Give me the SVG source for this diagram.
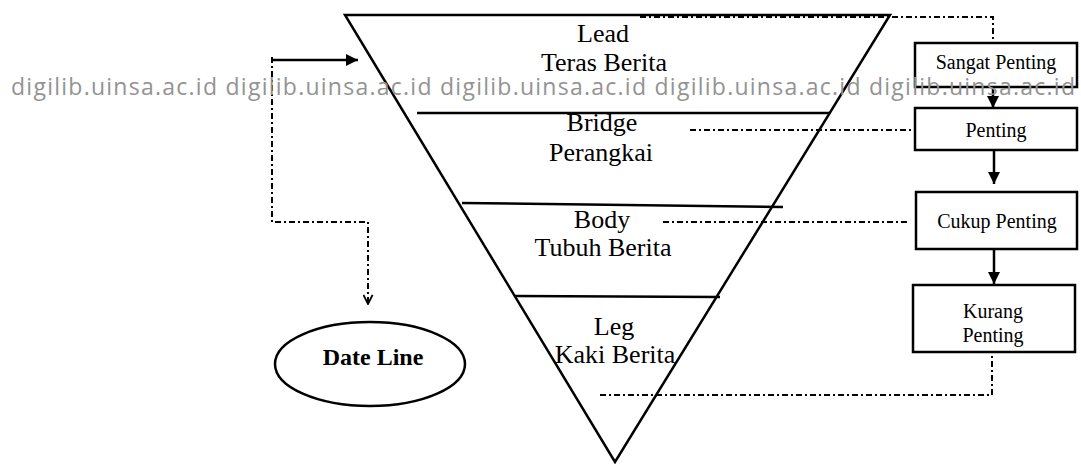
<svg xmlns="http://www.w3.org/2000/svg" width="1081" height="464" viewBox="0 0 1081 464">
<defs>
<style>
.t{font-family:"Liberation Serif","Times New Roman",serif;fill:#000;text-anchor:middle}
.big{font-size:26px}
.box{font-size:20px}
.solid{stroke:#000;stroke-width:2.5;fill:none}
.dd{stroke:#000;stroke-width:2;fill:none;stroke-dasharray:6 3 2 3}
.bx{stroke:#000;stroke-width:2.5;fill:#fff}
.wm{font-family:"Open Sans","DejaVu Sans",sans-serif;font-size:23px;fill:#939393}
</style>
<marker id="ah" viewBox="0 0 10 10" refX="10" refY="5" markerWidth="5" markerHeight="5" orient="auto" markerUnits="strokeWidth">
<path d="M0,0 L10,5 L0,10 Z" fill="#000"/>
</marker>
<marker id="av" viewBox="0 0 12 12" refX="11" refY="6" markerWidth="11" markerHeight="11" orient="auto" markerUnits="userSpaceOnUse">
<path d="M1,1 L11,6 L1,11" fill="none" stroke="#000" stroke-width="2"/>
</marker>
</defs>
<rect width="1081" height="464" fill="#fff"/>

<g id="pyramid">
<path class="solid" d="M345,15 L890,15 L615,462 Z" stroke-linejoin="miter"/>
<line class="solid" x1="417" y1="113" x2="830" y2="113"/>
<line class="solid" x1="462" y1="203" x2="783" y2="207"/>
<line class="solid" x1="515" y1="296" x2="720" y2="297"/>
<text class="t big" x="603" y="42">Lead</text>
<text class="t big" x="604" y="71">Teras Berita</text>
<text class="t big" x="602" y="131">Bridge</text>
<text class="t big" x="601" y="161">Perangkai</text>
<text class="t big" x="602" y="228">Body</text>
<text class="t big" x="603" y="256">Tubuh Berita</text>
<text class="t big" x="614" y="335">Leg</text>
<text class="t big" x="615" y="363">Kaki Berita</text>
</g>

<g id="sangat-penting">
<rect class="bx" x="915" y="43" width="162" height="44"/>
<text class="t box" x="996" y="69">Sangat Penting</text>
</g>
<g id="penting">
<rect class="bx" x="915" y="108" width="162" height="42"/>
<text class="t box" x="996" y="137">Penting</text>
</g>
<g id="cukup-penting">
<rect class="bx" x="916" y="192" width="161" height="57"/>
<text class="t box" x="997" y="228">Cukup Penting</text>
</g>
<g id="kurang-penting">
<rect class="bx" x="913" y="285" width="162" height="67"/>
<text class="t box" x="993" y="318">Kurang</text>
<text class="t box" x="993" y="342">Penting</text>
</g>
<g id="date-line">
<ellipse cx="370" cy="364" rx="95" ry="42" class="solid"/>
<text class="t" x="373" y="365" font-size="24" font-weight="bold">Date Line</text>
</g>

<g id="connectors">
<polyline class="dd" points="640,17 993,17 993,43"/>
<line class="dd" x1="690" y1="130" x2="913" y2="130"/>
<line class="dd" x1="663" y1="222" x2="908" y2="222"/>
<polyline class="dd" points="600,395 992,395 992,354"/>
<line x1="993" y1="87" x2="993" y2="108" stroke="#000" stroke-width="2.5" marker-end="url(#ah)"/>
<line x1="994" y1="151" x2="994" y2="184" stroke="#000" stroke-width="2.5" marker-end="url(#ah)"/>
<line x1="994" y1="250" x2="994" y2="284" stroke="#000" stroke-width="2.5" marker-end="url(#ah)"/>
<line x1="273" y1="60" x2="358" y2="60" stroke="#000" stroke-width="2.5" marker-end="url(#ah)"/>
<polyline class="dd" points="272,57 272,222 368,222 368,304" marker-end="url(#av)"/>
</g>

<text class="wm" x="11" y="95" textLength="1064" lengthAdjust="spacing">digilib.uinsa.ac.id digilib.uinsa.ac.id digilib.uinsa.ac.id digilib.uinsa.ac.id digilib.uinsa.ac.id</text>
</svg>
